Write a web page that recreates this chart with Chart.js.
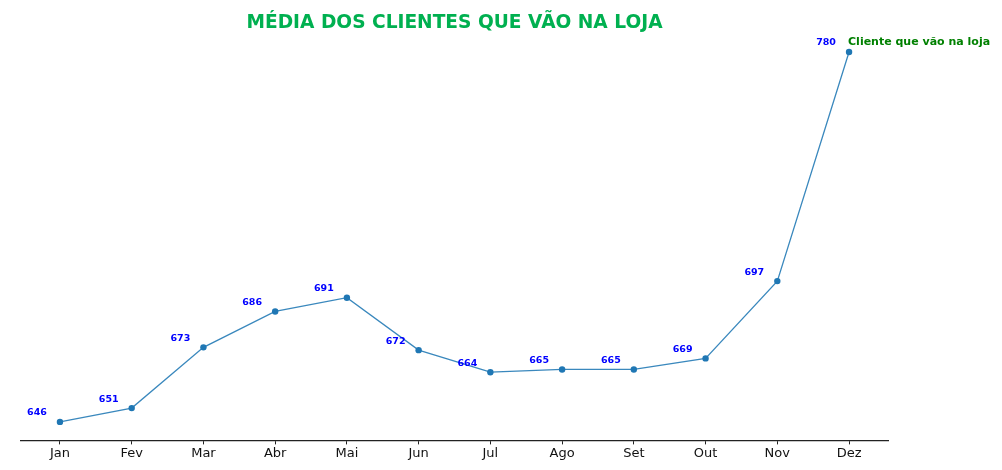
<!DOCTYPE html>
<html>
<head>
<meta charset="utf-8">
<script src="https://cdn.jsdelivr.net/npm/chart.js@4/dist/chart.umd.min.js"></script>
<style>
html,body{margin:0;padding:0;background:#fff;}
#wrap{width:1002px;height:470px;position:relative;}
</style>
</head>
<body>
<div id="wrap"><canvas id="c" width="1002" height="470"></canvas></div>
<script>
const months = ['Jan','Fev','Mar','Abr','Mai','Jun','Jul','Ago','Set','Out','Nov','Dez'];
const clientes = [646, 651, 673, 686, 691, 672, 664, 665, 665, 669, 697, 780];
const titleText = 'MÉDIA DOS CLIENTES QUE VÃO NA LOJA';
const seriesName = 'Cliente que vão na loja';

const FONT = '"DejaVu Sans", sans-serif';

const overlay = {
  id: 'overlay',
  afterDatasetsDraw(chart) {
    const ctx = chart.ctx;
    const meta = chart.getDatasetMeta(0);
    const area = chart.chartArea;
    ctx.save();
    ctx.fillStyle = '#00b050';
    ctx.font = 'bold 18.6px ' + FONT;
    ctx.textAlign = 'center';
    ctx.textBaseline = 'middle';
    ctx.fillText(titleText, (area.left + area.right) / 2, 23);
    ctx.fillStyle = '#0000ff';
    ctx.font = 'bold 9.5px ' + FONT;
    meta.data.forEach((pt, i) => {
      ctx.fillText(String(clientes[i]), pt.x - 23, pt.y - 9);
    });
    const last = meta.data[meta.data.length - 1];
    ctx.fillStyle = '#008000';
    ctx.font = 'bold 11px ' + FONT;
    ctx.textAlign = 'left';
    ctx.fillText(seriesName, last.x - 1, last.y - 10);
    ctx.restore();
  }
};

new Chart(document.getElementById('c'), {
  type: 'line',
  data: {
    datasets: [{
      label: seriesName,
      data: clientes.map((v, i) => ({x: i, y: v})),
      borderColor: 'rgba(31,119,180,0.88)',
      backgroundColor: '#1f77b4',
      pointBackgroundColor: '#1f77b4',
      pointBorderColor: '#1f77b4',
      pointRadius: 3.2,
      pointBorderWidth: 0,
      borderWidth: 1.3,
      tension: 0,
      fill: false
    }]
  },
  options: {
    responsive: false,
    animation: false,
    devicePixelRatio: 1,
    layout: { padding: { left: 20.5, right: 113.5, top: 33.5, bottom: 8 } },
    plugins: {
      legend: { display: false },
      title: { display: false },
      tooltip: { enabled: false }
    },
    scales: {
      x: {
        type: 'linear',
        min: -0.55,
        max: 11.55,
        afterBuildTicks(scale) {
          scale.ticks = months.map((m, i) => ({value: i}));
        },
        ticks: {
          autoSkip: false,
          maxRotation: 0,
          color: '#111',
          font: { family: FONT, size: 13 },
          padding: 1,
          callback: (v) => months[v] ?? ''
        },
        grid: { display: true, drawOnChartArea: false, drawTicks: true, tickLength: 4, color: '#222' },
        border: { display: true, color: '#222', width: 1.2 }
      },
      y: {
        display: false,
        min: 639.3,
        max: 786.7
      }
    }
  },
  plugins: [overlay]
});
</script>
</body>
</html>
